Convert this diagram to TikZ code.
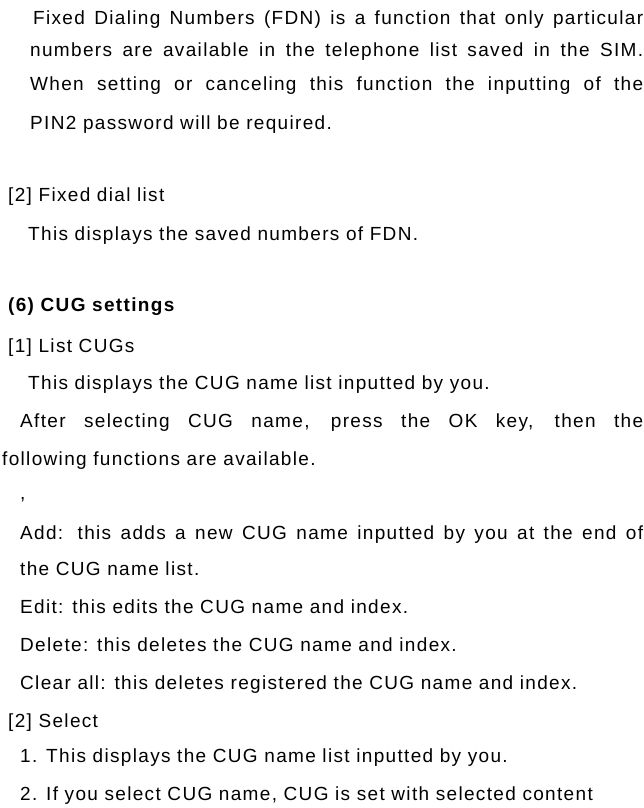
\documentclass[tikz,border=0pt]{standalone}
\usepackage{fontspec}
\setmainfont[LetterSpace=7]{Liberation Sans}
\begin{document}
\begin{tikzpicture}[x=1pt,y=1pt,txt/.style={anchor=base west,inner sep=0pt,font=\fontsize{19}{20}\selectfont}]
\useasboundingbox[fill=white] (0,0) rectangle (643,808);
\newcommand{\Ln}[4]{\node[txt] (#1) at (#2,808-#3) {#4};}
\newcommand{\Lj}[5]{\node[txt] (#1) at (#2,808-#3) {\makebox[#4pt][s]{#5}};}
\Lj{l1}{33}{25}{610}{Fixed Dialing Numbers (FDN) is a function that only particular}
\Lj{l2}{30}{57}{613}{numbers are available in the telephone list saved in the SIM.}
\Lj{l3}{30}{91}{613}{When setting or canceling this function the inputting of the}
\Ln{l4}{30}{130}{PIN2 password will be required.}
\Ln{l5}{8}{202}{[2] Fixed dial list}
\Ln{l6}{28}{241}{This displays the saved numbers of FDN.}
\Ln{l7}{8}{312}{\textbf{(6) CUG settings}}
\Ln{l8}{8}{353}{[1] List CUGs}
\Ln{l9}{28}{390}{This displays the CUG name list inputted by you.}
\Lj{l10}{20}{428}{623}{After selecting CUG name, press the OK key, then the}
\Ln{l11}{2}{466}{following functions are available.}
\Ln{l12}{20}{500}{,}
\Lj{l13}{20}{540}{623}{Add: this adds a new CUG name inputted by you at the end of}
\Ln{l14}{20}{576}{the CUG name list.}
\Ln{l15}{20}{614}{Edit: this edits the CUG name and index.}
\Ln{l16}{20}{652}{Delete: this deletes the CUG name and index.}
\Ln{l17}{20}{690}{Clear all: this deletes registered the CUG name and index.}
\Ln{l18}{8}{728}{[2] Select}
\Ln{l19}{20}{763}{1. This displays the CUG name list inputted by you.}
\Ln{l20}{20}{800}{2. If you select CUG name, CUG is set with selected content}
\end{tikzpicture}
\end{document}
